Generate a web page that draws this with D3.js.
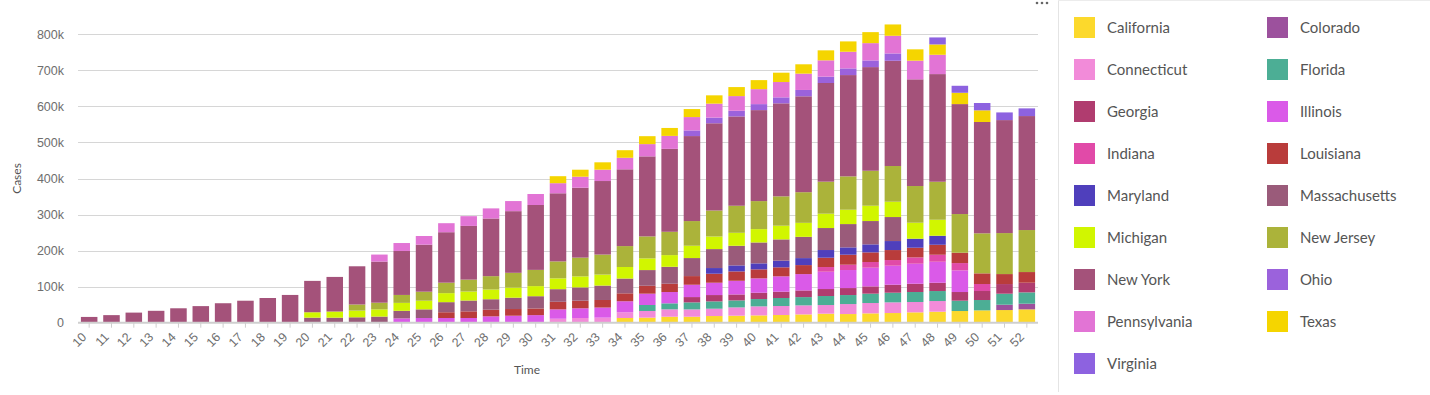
<!DOCTYPE html>
<html>
<head>
<meta charset="utf-8">
<script src="https://cdn.jsdelivr.net/npm/d3@7"></script>
<style>
	body { margin: 0; background: #fff; font-family: Lato, "Noto Sans", sans-serif; }
	.grid line { stroke: #d6d6d6; }
	.axis text { fill: #6e6e6e; font-size: 12.5px; }
	.legend text { fill: #555; font-size: 15px; }
</style>
</head>
<body>
<div class="chart"></div>
<script>
// weekly cases per state, in thousands (weeks 10..52)
var weeks = d3.range(10, 53);

var california    = [0,0,0,0,0,0,0,0,0,0, 0,0,0,0,0,0,0,0,0,0, 0,0,0,0,13,14,16.6,16.6,18.5,19.4, 20.3,21.3,23,25,24,25.9,26.8,28.7,30.5,32.4, 34.2,35.1,37];
var colorado      = [0,0,0,0,0,0,0,0,0,0, 0,0,0,0,0,0,0,0,0,0, 0,0,0,0,0,0,0,0,0,0, 0,0,0,0,0,0,0,0,0,0, 0,14.8,15.7];
var connecticut   = [0,0,0,0,0,0,0,0,0,0, 0,0,0,0,0,0,0,0,0,0, 0,11,13,14,16,18.5,20.5,20.3,20.3,23, 25,25,25,24,27.7,28.7,29.6,28.7,29.6,0, 0,0,0];
var florida       = [0,0,0,0,0,0,0,0,0,0, 0,0,0,0,0,0,0,0,0,0, 0,0,0,0,0,16.6,16.6,19.4,20.3,19.4, 20.3,22.2,23,25,25,25.9,26.8,27.7,27.7,28.7, 28.7,30.5,31.4];
var georgia       = [0,0,0,0,0,0,0,0,0,0, 0,0,0,0,0,0,0,0,0,0, 0,0,0,0,0,0,0,14.8,17.6,16.6, 17.6,17.6,18.5,19.4,19.4,20.3,22.2,23,23,24, 25,26.8,26.8];
var illinois      = [0,0,0,0,0,0,0,0,0,0, 0,0,0,0,12,13,13,13,17.6,19.4, 21,26,27,28,30.5,31.4,31.4,34.2,34.2,37.9, 39.8,42.5,45.3,48,50,51.8,52.7,55.5,58.3,60, 0,0,0];
var indiana       = [0,0,0,0,0,0,0,0,0,0, 0,0,0,0,0,0,0,0,0,0, 0,0,0,0,0,0,0,0,0,0, 0,0,0,13,14.8,15.7,15.7,17.6,19.4,20.3, 19.4,0,0];
var louisiana     = [0,0,0,0,0,0,0,0,0,0, 0,0,0,0,0,0,16,18.5,18.5,18.5, 18.5,21,21,21,22,22,23,24,25,26, 25,25,25,25.9,27.7,26.8,27.7,26.8,27.7,28.7, 29.6,27.7,29.6];
var maryland      = [0,0,0,0,0,0,0,0,0,0, 0,0,0,0,0,0,0,0,0,0, 0,0,0,0,0,0,0,0,15.7,16.6, 16.6,18.5,19.4,21.3,20.3,22.2,25,25,25,0, 0,0,0];
var massachusetts = [0,0,0,0,0,0,0,0,0,0, 14,14,15,17,21,24,28,30,29,31.5, 34,35,37,40,41,43.5,47,50,52.6,54.5, 58,59,59,61,64.7,64.7,66.6,0,0,0, 0,0,0];
var michigan      = [0,0,0,0,0,0,0,0,0,0, 15,17,18.5,20,22,24,25,25,27,28, 28,30,30.5,30.5,32,32.4,32.4,34.2,35,36, 37,38,38.8,39.8,39.8,42.5,42.5,44.4,44.4,0, 0,0,0];
var newJersey     = [0,0,0,0,0,0,0,0,0,0, 0,0,17,18.5,22,25,29,33,37,41, 45,47,52,55.5,58,61,64.7,68.4,72,75, 77.7,81.4,85,88.8,92.5,97,99,101.7,105.4,107.3, 111,113.7,116.5];
var newYork       = [16,21,28,33,40,46,54,61,68.5,77, 87,96,106,114,122,130.5,140,149,160,171, 180,189,194,204,213,222,230,235.8,242,247.8, 252.4,258,266,273.7,281,287.5,292,296,298.6,305, 308.8,313.4,316.2];
var ohio          = [0,0,0,0,0,0,0,0,0,0, 0,0,0,0,0,0,0,0,0,0, 0,0,0,0,0,0,0,15.7,15.7,15.7, 16.6,16.6,17.6,17.6,18.5,18.5,20.3,0,0,0, 0,0,0];
var pennsylvania  = [0,0,0,0,0,0,0,0,0,0, 0,0,0,19.5,22,24,25,27,28,28, 30.5,28,30.5,31.5,32,34,36,37,38.8,40.7, 41.6,42.5,45.3,45.3,46.2,48,49,51.8,53.6,0, 0,0,0];
var texas         = [0,0,0,0,0,0,0,0,0,0, 0,0,0,0,0,0,0,0,0,0, 0,19.4,19.4,20.4,21,22,22,22.2,23,25, 25,25.9,25.9,27.7,28.7,30.5,31.4,31.4,28.7,31.4, 32.4,0,0];
var virginia      = [0,0,0,0,0,0,0,0,0,0, 0,0,0,0,0,0,0,0,0,0, 0,0,0,0,0,0,0,0,0,0, 0,0,0,0,0,0,0,0,19.4,19.4, 20.3,21.3,21.3];

var states = ['California', 'Colorado', 'Connecticut', 'Florida', 'Georgia', 'Illinois', 'Indiana', 'Louisiana',
	'Maryland', 'Massachusetts', 'Michigan', 'New Jersey', 'New York', 'Ohio', 'Pennsylvania', 'Texas', 'Virginia'];
var values = [california, colorado, connecticut, florida, georgia, illinois, indiana, louisiana,
	maryland, massachusetts, michigan, newJersey, newYork, ohio, pennsylvania, texas, virginia];
var colors = ['#fcd92c', '#9c519d', '#f28bd9', '#4cae95', '#b03c6f', '#da5ae8', '#e14aa8', '#b93c3b',
	'#4f3fbc', '#9a5b7a', '#d1f600', '#abb33a', '#a4527a', '#9b62dc', '#e274d5', '#f5d500', '#8d62e0'];
var yTicks = [0, 100, 200, 300, 400, 500, 600, 700, 800];

var width = 1430, height = 395;
var plot = { left: 78, right: 1038, top: 34.3, bottom: 322.7 };

// one row per week for d3.stack
var rows = weeks.map(function(w, i) {
	var row = { week: w };
	states.forEach(function(s, j) { row[s] = values[j][i]; });
	return row;
});

var svg = d3.select('.chart').append('svg')
	.attr('width', width)
	.attr('height', height);

var x = d3.scaleBand()
	.domain(weeks)
	.range([plot.left, plot.right])
	.paddingInner(0.26)
	.paddingOuter(0.13);

var y = d3.scaleLinear()
	.domain([0, 800])
	.range([plot.bottom, plot.top]);

var color = d3.scaleOrdinal().domain(states).range(colors);

// gridlines
svg.append('g')
	.attr('class', 'grid')
	.selectAll('line').data(yTicks.slice(1))
	.enter().append('line')
	.attr('x1', plot.left).attr('x2', plot.right)
	.attr('y1', function(d) { return Math.round(y(d)) + 0.5; })
	.attr('y2', function(d) { return Math.round(y(d)) + 0.5; });

// y axis labels
var yAxis = svg.append('g')
	.attr('class', 'axis')
	.attr('transform', 'translate(' + plot.left + ',0)')
	.call(d3.axisLeft(y).tickValues(yTicks).tickSize(0).tickPadding(14)
		.tickFormat(function(d) { return d === 0 ? '0' : d + 'k'; }));
yAxis.select('.domain').remove();

// stacked bars
var stacked = d3.stack().keys(states)(rows);

svg.append('g').selectAll('g').data(stacked)
	.enter().append('g')
	.attr('fill', function(d) { return color(d.key); })
	.selectAll('rect').data(function(d) { return d.filter(function(p) { return p[1] > p[0]; }); })
	.enter().append('rect')
	.attr('x', function(d) { return x(d.data.week); })
	.attr('width', x.bandwidth())
	.attr('y', function(d) { return y(d[1]); })
	.attr('height', function(d) { return y(d[0]) - y(d[1]); });

// x axis
var xAxis = svg.append('g')
	.attr('class', 'axis')
	.attr('transform', 'translate(0,' + plot.bottom + ')')
	.call(d3.axisBottom(x).tickSize(5).tickSizeOuter(0));
xAxis.select('.domain').attr('stroke', '#cfcfcf').attr('stroke-width', 2)
	.attr('d', 'M' + plot.left + ',0H' + plot.right);
xAxis.selectAll('.tick line').attr('stroke', '#cfcfcf');
xAxis.selectAll('.tick text')
	.attr('x', 0).attr('y', 0)
	.attr('text-anchor', 'end')
	.attr('dy', '0.35em')
	.attr('transform', 'translate(-5,12) rotate(-45)');

// axis titles
svg.append('text')
	.attr('transform', 'translate(17,' + (plot.top + plot.bottom) / 2 + ') rotate(-90)')
	.attr('dy', '0.35em')
	.attr('text-anchor', 'middle')
	.attr('fill', '#555')
	.style('font-size', '12px')
	.text('Cases');

svg.append('text')
	.attr('x', 527).attr('y', 374)
	.attr('text-anchor', 'middle')
	.attr('fill', '#555')
	.style('font-size', '12px')
	.text('Time');

// menu dots
svg.append('g').selectAll('circle').data([0, 1, 2])
	.enter().append('circle')
	.attr('cx', function(d) { return 1037 + d * 5; })
	.attr('cy', 3)
	.attr('r', 1.3)
	.attr('fill', '#666');

// legend panel
svg.append('line')
	.attr('x1', 1058.5).attr('x2', 1058.5).attr('y1', 0).attr('y2', 392)
	.attr('stroke', '#e4e4e4');
svg.append('line')
	.attr('x1', 1058).attr('x2', width).attr('y1', 0.5).attr('y2', 0.5)
	.attr('stroke', '#ececec');

var legend = svg.append('g').attr('class', 'legend')
	.selectAll('g').data(states)
	.enter().append('g')
	.attr('transform', function(d, i) {
		return 'translate(' + (i % 2 ? 1267 : 1074) + ',' + (17 + Math.floor(i / 2) * 42) + ')';
	});
legend.append('rect')
	.attr('width', 21).attr('height', 21)
	.attr('fill', function(d) { return color(d); });
legend.append('text')
	.attr('x', 33).attr('y', 10.5).attr('dy', '0.35em')
	.text(function(d) { return d; });
</script>
</body>
</html>
